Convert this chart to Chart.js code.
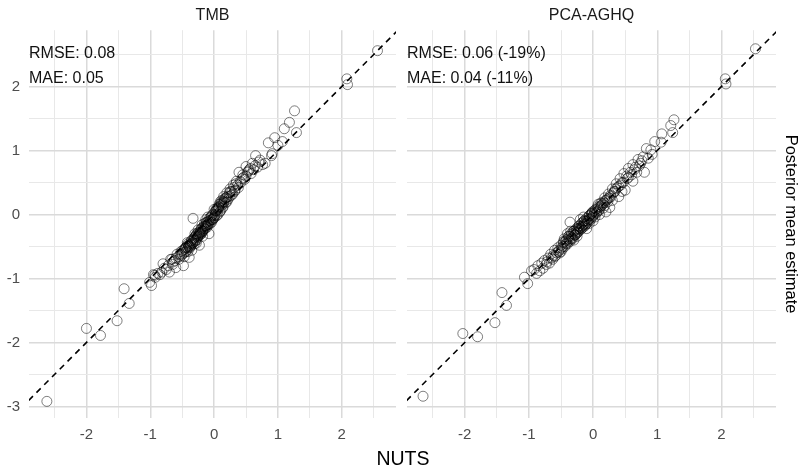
<!DOCTYPE html>
<html>
<head>
<meta charset="utf-8">
<script src="https://cdn.jsdelivr.net/npm/chart.js@4"></script>
<style>
  body { margin: 0; background: #fff; width: 802px; height: 467px; position: relative; overflow: hidden; font-family: "Liberation Sans", Arial, sans-serif; }
  #tmbChart { position: absolute; left: 0; top: 0; }
  #aghqChart { position: absolute; left: 400px; top: 0; }
  .xTitle { position: absolute; left: 0; width: 806px; top: 447px; line-height: 22px; text-align: center; font-size: 19.5px; color: #000; }
</style>
</head>
<body>
<canvas id="tmbChart" width="402" height="448"></canvas>
<canvas id="aghqChart" width="402" height="448"></canvas>
<div class="xTitle">NUTS</div>
<script>
// panel titles + stats text
const panelNames = ['TMB', 'PCA-AGHQ'];
const tmbStats = ['RMSE: 0.08', 'MAE: 0.05'];
const aghqStats = ['RMSE: 0.06 (-19%)', 'MAE: 0.04 (-11%)'];

const xTicks = [-2.5, -2, -1.5, -1, -0.5, 0, 0.5, 1, 1.5, 2, 2.5];
const yTicks = [-3, -2.5, -2, -1.5, -1, -0.5, 0, 0.5, 1, 1.5, 2, 2.5];

// TMB: x = NUTS, y = TMB estimate
const tmbNuts = [
  2.56, 2.08, 2.09, 1.26, 1.18, 1.10, 1.29, 0.95, 1.07, 0.85,
  1.00, 0.91, 0.65, 0.80, 0.90, 0.50, 0.39, 0.72, 0.76, 0.60,
  0.55, 0.68, 0.45, 0.58, 0.48, 0.35, 0.42, 0.30, 0.38, 0.25,
  0.32, 0.20, 0.27, 0.15, 0.22, 0.12, 0.18, 0.08, 0.14, 0.05,
  0.10, 0.02, 0.06, -0.02, 0.00, -0.05, -0.04, -0.08, -0.10, -0.12,
  -0.14, -0.16, -0.18, -0.20, -0.22, -0.24, -0.26, -0.28, -0.30, -0.32,
  -0.34, -0.36, -0.38, -0.40, -0.33, -0.08, -0.23, -0.28, -0.39, -0.51,
  -0.48, -0.60, -0.80, -0.70, -0.44, -0.46, -0.55, -0.58, -0.62, -0.65,
  -0.68, -0.72, -0.75, -0.78, -0.82, -0.85, -0.88, -0.92, -0.95, -1.01,
  -0.98, -0.93, -2.62, -2.00, -1.78, -1.52, -1.41, -1.33, 0.04, -0.06,
  -0.15, -0.20, -0.25, 0.10, 0.16, 0.24, 0.20, 0.28, 0.34, 0.44,
  0.52, 0.62, 0.70, -0.10, -0.18, -0.30, -0.42, -0.52, -0.35, 0.00,
  -0.03, -0.07, -0.11, -0.13, -0.17, -0.19, -0.21, -0.27, -0.29, -0.31,
  0.01, 0.03, 0.07, 0.09, 0.11, 0.13, -0.37, -0.41, -0.43, -0.47,
  -0.01, 0.02, 0.04, 0.06, 0.08, 0.12, 0.14, 0.16, 0.18, 0.21,
  -0.04, -0.06, -0.09, -0.11, -0.13, -0.15, -0.17, -0.19, -0.21, -0.23,
  -0.25, -0.27, -0.29, -0.31, -0.33, -0.35, -0.37, -0.39, -0.41, -0.43,
  -0.45, -0.47, -0.49, -0.53, -0.56, -0.60, -0.64, -0.66, 0.24, 0.26,
  0.29, 0.31, 0.33, 0.37, 0.41, 0.46, 0.50, 0.54, 0.57, 0.64,
  -0.02, -0.05, -0.09, -0.14, -0.18, -0.22, -0.26, -0.32, -0.36, -0.40,
  0.03, 0.07, 0.11, 0.15, 0.19, -0.12, -0.24, -0.34, -0.44, -0.50
];
const tmbEst = [
  2.56, 2.12, 2.03, 1.62, 1.44, 1.34, 1.28, 1.20, 1.14, 1.12,
  1.08, 0.95, 0.92, 0.80, 0.92, 0.75, 0.66, 0.85, 0.78, 0.80,
  0.70, 0.74, 0.62, 0.64, 0.55, 0.52, 0.50, 0.46, 0.42, 0.40,
  0.36, 0.34, 0.30, 0.28, 0.24, 0.22, 0.18, 0.16, 0.12, 0.10,
  0.06, 0.05, 0.00, 0.00, -0.05, -0.04, -0.12, -0.10, -0.16, -0.12,
  -0.22, -0.18, -0.26, -0.22, -0.32, -0.28, -0.36, -0.32, -0.42, -0.38,
  -0.46, -0.42, -0.52, -0.48, -0.06, -0.30, -0.48, -0.45, -0.67, -0.64,
  -0.80, -0.83, -0.77, -0.90, -0.58, -0.54, -0.70, -0.62, -0.72, -0.78,
  -0.70, -0.80, -0.86, -0.84, -0.90, -0.94, -0.92, -0.98, -0.94, -1.06,
  -1.11, -0.95, -2.92, -1.78, -1.89, -1.66, -1.16, -1.39, -0.02, -0.14,
  -0.14, -0.30, -0.24, 0.20, 0.24, 0.34, 0.20, 0.36, 0.48, 0.56,
  0.66, 0.70, 0.82, -0.04, -0.34, -0.30, -0.44, -0.58, -0.56, 0.08,
  -0.08, -0.06, -0.20, -0.08, -0.24, -0.16, -0.28, -0.40, -0.34, -0.46,
  -0.02, 0.08, 0.12, 0.04, 0.18, 0.10, -0.50, -0.58, -0.50, -0.66,
  -0.06, 0.00, 0.06, 0.08, 0.12, 0.14, 0.20, 0.20, 0.26, 0.28,
  -0.02, -0.10, -0.14, -0.12, -0.18, -0.22, -0.20, -0.28, -0.24, -0.30,
  -0.34, -0.30, -0.40, -0.36, -0.44, -0.40, -0.46, -0.50, -0.46, -0.56,
  -0.52, -0.60, -0.56, -0.62, -0.66, -0.68, -0.74, -0.70, 0.28, 0.36,
  0.32, 0.42, 0.38, 0.46, 0.52, 0.58, 0.60, 0.68, 0.72, 0.76,
  -0.08, -0.08, -0.16, -0.18, -0.26, -0.28, -0.34, -0.40, -0.48, -0.50,
  0.06, 0.10, 0.16, 0.18, 0.26, -0.18, -0.32, -0.44, -0.52, -0.62
];

// PCA-AGHQ: x = NUTS, y = PCA-AGHQ estimate
const aghqNuts = [
  2.53, 2.06, 2.07, 1.26, 1.21, 1.24, 1.07, 0.96, 1.06, 0.83,
  0.90, 0.80, -2.65, -2.03, -1.80, -1.53, -1.42, -1.35, -1.07, -1.02,
  -0.96, 0.92, 0.86, 0.78, 0.74, 0.70, 0.66, 0.62, 0.58, 0.55,
  0.52, 0.48, 0.45, 0.42, 0.40, 0.36, 0.33, 0.30, 0.27, 0.24,
  0.21, 0.18, 0.15, 0.12, 0.10, 0.07, 0.05, 0.02, 0.00, -0.02,
  -0.04, -0.06, -0.08, -0.10, -0.12, -0.14, -0.16, -0.18, -0.20, -0.22,
  -0.24, -0.26, -0.28, -0.30, -0.32, -0.34, -0.36, -0.38, -0.40, -0.42,
  -0.44, -0.46, -0.48, -0.50, -0.52, -0.55, -0.58, -0.60, -0.63, -0.66,
  -0.68, -0.70, -0.73, -0.76, -0.78, -0.80, -0.83, -0.86, -0.88, -0.92,
  -0.36, 0.30, 0.45, 0.26, 0.50, 0.20, 0.62, 0.40, 0.10, 0.00,
  -0.10, -0.20, -0.30, -0.40, -0.50, -0.60, 0.16, 0.08, -0.06, -0.15,
  -0.25, -0.35, -0.45, 0.55, 0.68, 0.35, -0.01, 0.03, -0.13, -0.23,
  -0.01, 0.01, 0.03, 0.06, 0.08, 0.11, 0.13, 0.17, 0.19, 0.22,
  -0.03, -0.05, -0.07, -0.09, -0.11, -0.13, -0.15, -0.17, -0.19, -0.21,
  -0.23, -0.25, -0.27, -0.29, -0.31, -0.33, -0.35, -0.37, -0.39, -0.41,
  -0.43, -0.47, -0.49, -0.53, -0.57, -0.62, -0.65, -0.72, 0.25, 0.28,
  0.32, 0.34, 0.38, 0.43, 0.47, 0.53, 0.60, 0.64, 0.72, 0.76,
  -0.02, -0.06, -0.10, -0.14, -0.18, -0.22, -0.26, -0.30, -0.34, -0.38,
  0.04, 0.09, 0.14, 0.18, 0.23, -0.42, -0.46, -0.54, -0.16, -0.28
];
const aghqEst = [
  2.59, 2.12, 2.04, 1.48, 1.39, 1.28, 1.26, 1.14, 1.13, 1.03,
  1.01, 0.66, -2.84, -1.86, -1.91, -1.69, -1.22, -1.42, -0.98, -1.08,
  -0.88, 0.94, 0.88, 0.90, 0.80, 0.86, 0.74, 0.78, 0.66, 0.72,
  0.60, 0.64, 0.50, 0.56, 0.44, 0.48, 0.36, 0.40, 0.30, 0.32,
  0.22, 0.26, 0.16, 0.18, 0.08, 0.12, 0.02, 0.06, -0.02, 0.02,
  -0.08, -0.02, -0.12, -0.06, -0.16, -0.10, -0.20, -0.14, -0.24, -0.18,
  -0.28, -0.22, -0.32, -0.26, -0.38, -0.30, -0.42, -0.34, -0.46, -0.40,
  -0.50, -0.44, -0.54, -0.48, -0.60, -0.52, -0.64, -0.56, -0.70, -0.62,
  -0.76, -0.68, -0.78, -0.72, -0.84, -0.76, -0.88, -0.80, -0.92, -0.86,
  -0.12, 0.22, 0.36, 0.11, 0.38, 0.04, 0.52, 0.28, 0.00, -0.10,
  -0.22, -0.08, -0.40, -0.30, -0.58, -0.66, 0.10, 0.16, -0.14, -0.04,
  -0.34, -0.26, -0.38, 0.58, 0.66, 0.40, 0.04, -0.04, -0.18, -0.22,
  -0.04, 0.00, 0.04, 0.04, 0.10, 0.12, 0.14, 0.18, 0.22, 0.24,
  0.00, -0.06, -0.08, -0.10, -0.10, -0.14, -0.16, -0.18, -0.20, -0.22,
  -0.26, -0.24, -0.28, -0.32, -0.30, -0.36, -0.34, -0.40, -0.38, -0.44,
  -0.42, -0.50, -0.52, -0.56, -0.60, -0.64, -0.68, -0.74, 0.26, 0.28,
  0.34, 0.36, 0.42, 0.46, 0.50, 0.56, 0.62, 0.70, 0.76, 0.84,
  0.02, -0.02, -0.14, -0.10, -0.22, -0.18, -0.30, -0.26, -0.38, -0.34,
  0.08, 0.06, 0.18, 0.14, 0.20, -0.46, -0.42, -0.58, -0.12, -0.32
];

const lineEnds = [-4, 4];

Chart.defaults.font.family = '"Liberation Sans", Arial, sans-serif';
Chart.defaults.animation = false;

function toPoints(xs, ys) {
  return xs.map((x, i) => ({ x: x, y: ys[i] }));
}

function isWhole(v) {
  return Math.abs(v - Math.round(v)) < 1e-9;
}

// the RMSE / MAE lines at top left of each panel
const statsText = {
  id: 'statsText',
  afterDatasetsDraw(chart, args, opts) {
    const ctx = chart.ctx;
    const yScale = chart.scales.y;
    ctx.save();
    ctx.font = '16px "Liberation Sans", Arial, sans-serif';
    ctx.fillStyle = '#111';
    ctx.textBaseline = 'middle';
    ctx.textAlign = 'left';
    ctx.fillText(opts.lines[0], chart.chartArea.left, yScale.getPixelForValue(2.51));
    ctx.fillText(opts.lines[1], chart.chartArea.left, yScale.getPixelForValue(2.13));
    ctx.restore();
  }
};

function makePanel(canvas, title, xs, ys, stats, isLeft) {
  const gridOpts = {
    color: c => isWhole(c.tick.value) ? '#dadada' : '#e8e8e8',
    lineWidth: c => isWhole(c.tick.value) ? 1.5 : 1,
    drawTicks: false
  };
  return new Chart(canvas, {
    type: 'scatter',
    data: {
      datasets: [{
        data: toPoints(xs, ys),
        pointRadius: 5,
        pointHoverRadius: 5,
        borderWidth: 1,
        borderColor: 'rgba(0,0,0,0.5)',
        backgroundColor: 'rgba(0,0,0,0)',
        clip: false
      }, {
        type: 'line',
        data: toPoints(lineEnds, lineEnds),
        borderColor: '#000',
        borderWidth: 1.6,
        borderDash: [6, 5],
        pointRadius: 0
      }]
    },
    options: {
      responsive: false,
      events: [],
      layout: { padding: { left: isLeft ? 0 : 7, right: isLeft ? 4 : 0, top: 0, bottom: 0 } },
      plugins: {
        legend: { display: false },
        tooltip: { enabled: false },
        title: {
          display: true,
          text: title,
          color: '#1a1a1a',
          font: { size: 16, weight: 'normal' },
          padding: { top: 6, bottom: 5 },
          fullSize: false
        },
        statsText: { lines: stats }
      },
      scales: {
        x: {
          type: 'linear',
          min: -2.90,
          max: 2.85,
          afterBuildTicks: s => { s.ticks = xTicks.map(v => ({ value: v })); },
          afterFit: s => { s.height = 30; },
          border: { display: false },
          grid: gridOpts,
          ticks: {
            color: '#4d4d4d',
            font: { size: 15 },
            padding: 8,
            maxRotation: 0,
            autoSkip: false,
            callback: v => isWhole(v) ? String(v) : ''
          }
        },
        y: {
          type: 'linear',
          position: isLeft ? 'left' : 'right',
          min: -3.18,
          max: 2.88,
          afterBuildTicks: s => { s.ticks = yTicks.map(v => ({ value: v })); },
          afterFit: s => { s.width = isLeft ? 29 : 26; },
          border: { display: false },
          grid: gridOpts,
          title: {
            display: !isLeft,
            text: 'Posterior mean estimate',
            color: '#000',
            font: { size: 16.5 },
            padding: { top: 2, bottom: 0 }
          },
          ticks: {
            display: isLeft,
            color: '#4d4d4d',
            font: { size: 15 },
            padding: 9,
            autoSkip: false,
            callback: v => isWhole(v) ? String(v) : ''
          }
        }
      }
    },
    plugins: [statsText]
  });
}

makePanel(document.getElementById('tmbChart'), panelNames[0], tmbNuts, tmbEst, tmbStats, true);
makePanel(document.getElementById('aghqChart'), panelNames[1], aghqNuts, aghqEst, aghqStats, false);
</script>
</body>
</html>
